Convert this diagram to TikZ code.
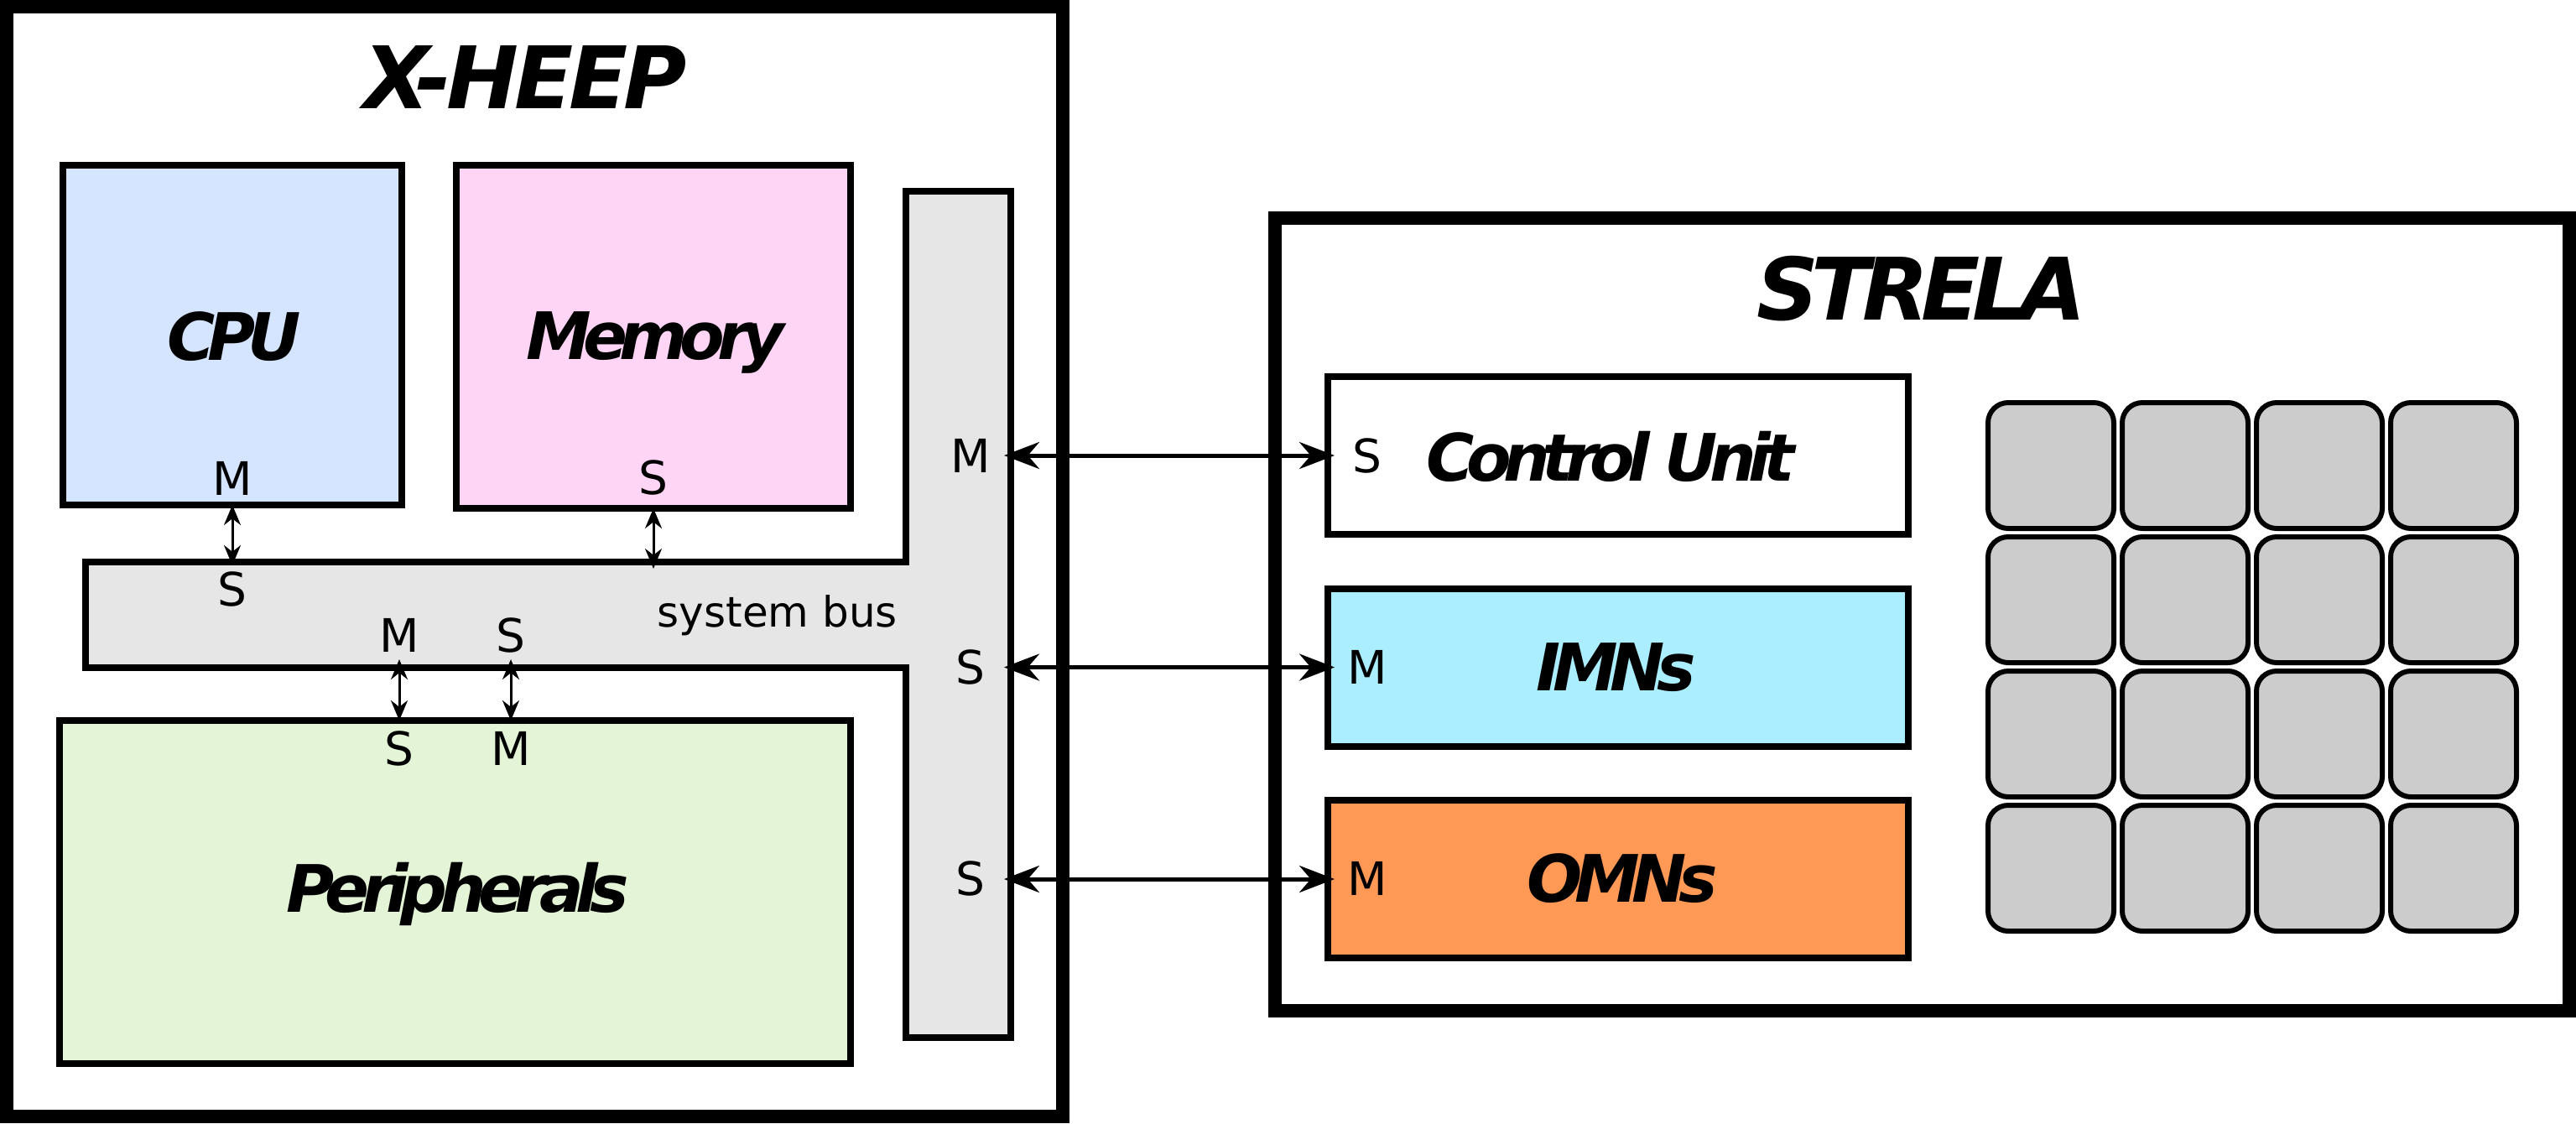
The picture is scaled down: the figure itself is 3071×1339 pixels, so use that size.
\documentclass[tikz,border=0pt]{standalone}
\usepackage{fontspec}
\setmainfont{DejaVu Sans}
\newfontfamily\ttlfont[LetterSpace=-12]{DejaVu Sans}
\newfontfamily\xhfont[LetterSpace=-5]{DejaVu Sans}
\newfontfamily\stfont[LetterSpace=-9]{DejaVu Sans}
\usetikzlibrary{arrows.meta}
\definecolor{cpufill}{HTML}{D5E5FF}
\definecolor{memfill}{HTML}{FFD5F6}
\definecolor{perfill}{HTML}{E3F4D7}
\definecolor{imnfill}{HTML}{AAEEFF}
\definecolor{omnfill}{HTML}{FF9955}
\definecolor{busfill}{HTML}{E6E6E6}
\definecolor{tilefill}{HTML}{CCCCCC}
\begin{document}
\begin{tikzpicture}[x=0.25pt,y=-0.25pt,
  blockbox/.style={draw=black, line width=2pt, inner sep=0pt, outer sep=0pt},
  framebox/.style={draw=black, line width=4pt, inner sep=0pt, outer sep=0pt, fill=white},
  tilebox/.style={draw=black, line width=1.5pt, fill=tilefill, rounded corners=6pt, minimum width=37.5pt, minimum height=37.5pt, inner sep=0pt},
  portlabel/.style={font=\fontsize{13.75pt}{16pt}\selectfont, anchor=base, inner sep=0pt},
  bigtitle/.style={anchor=base, inner sep=0pt},
  blocktitle/.style={font=\fontsize{19.5pt}{24pt}\selectfont\ttlfont\bfseries\itshape, anchor=base, inner sep=0pt},
  smallarrow/.style={line width=0.75pt, {Stealth[length=6pt,width=5pt]}-{Stealth[length=6pt,width=5pt]}},
  bigarrow/.style={line width=1.25pt, {Stealth[length=10.5pt,width=8pt]}-{Stealth[length=10.5pt,width=8pt]}},
  busstyle/.style={draw=black, line width=2pt, fill=busfill, line join=miter}
]
\useasboundingbox (0,0) rectangle (3071,1339);
\fill[white] (0,0) rectangle (3071,1339);

% frames
\node[framebox, minimum width=314.75pt, minimum height=330.75pt] (xheep) at (637.5,669.5) {};
\node[framebox, minimum width=385.75pt, minimum height=236.25pt] (strela) at (2291.5,732.5) {};

% system bus
\draw[busstyle] (102,670) -- (1080,670) -- (1080,228) -- (1205,228) -- (1205,1237) -- (1080,1237) -- (1080,796) -- (102,796) -- cycle;

% X-HEEP blocks
\node[blockbox, fill=cpufill, minimum width=101pt, minimum height=101.25pt] (cpu) at (277,399.5) {};
\node[blockbox, fill=memfill, minimum width=117.5pt, minimum height=102.25pt] (mem) at (779,401.5) {};
\node[blockbox, fill=perfill, minimum width=235.75pt, minimum height=102.25pt] (per) at (542.5,1063.5) {};

% STRELA blocks
\node[blockbox, fill=white, minimum width=173pt, minimum height=47pt] (cu) at (1929,543) {};
\node[blockbox, fill=imnfill, minimum width=173pt, minimum height=47pt] (imn) at (1929,795.5) {};
\node[blockbox, fill=omnfill, minimum width=173pt, minimum height=47pt] (omn) at (1929,1048) {};

% PE array
\foreach \i in {0,...,3} {
  \foreach \j in {0,...,3} {
    \node[tilebox] (t\i\j) at ({2445+160*\i},{555+160*\j}) {};
  }
}

% titles
\node[bigtitle, font=\fontsize{25.7pt}{30pt}\selectfont\xhfont\bfseries\itshape] (xt) at (626,129) {X-HEEP};
\node[bigtitle, font=\fontsize{25.7pt}{30pt}\selectfont\stfont\bfseries\itshape] (st) at (2291,381) {STRELA};
\node[blocktitle] (cput) at (279,429) {CPU};
\node[blocktitle] (memt) at (781,428) {Memory};
\node[blocktitle] (pert) at (546,1087) {Peripherals};
\node[blocktitle] (cut) at (1920,573) {Control Unit};
\node[blocktitle] (imnt) at (1927,823) {IMNs};
\node[blocktitle] (omnt) at (1934,1075) {OMNs};
\node[portlabel, font=\fontsize{12.5pt}{15pt}\selectfont] (sb) at (927,747) {system bus};

% port labels
\node[portlabel] (l1) at (277,590) {M};
\node[portlabel] (l2) at (277,722) {S};
\node[portlabel] (l3) at (779,589) {S};
\node[portlabel] (l4) at (476,777) {M};
\node[portlabel] (l5) at (609,777) {S};
\node[portlabel] (l6) at (476,912) {S};
\node[portlabel] (l7) at (609,912) {M};
\node[portlabel] (l8) at (1157,563) {M};
\node[portlabel] (l9) at (1157,815) {S};
\node[portlabel] (l10) at (1157,1067) {S};
\node[portlabel] (l11) at (1630,563) {S};
\node[portlabel] (l12) at (1630,815) {M};
\node[portlabel] (l13) at (1630,1067) {M};

% bus port points
\coordinate (bcpu) at (277,674);
\coordinate (bmem) at (779,678);
\coordinate (bp1) at (476,786);
\coordinate (bp2) at (609,786);
\coordinate (bcu) at (1197,543);
\coordinate (bimn) at (1197,795.5);
\coordinate (bomn) at (1197,1048);

% connectors
\draw[smallarrow] (cpu.south) -- (bcpu);
\draw[smallarrow] (mem.south) -- (bmem);
\draw[smallarrow] (bp1) -- (per.north -| bp1);
\draw[smallarrow] (bp2) -- (per.north -| bp2);
\draw[bigarrow, shorten >=-2pt] (bcu) -- (cu.west);
\draw[bigarrow, shorten >=-2pt] (bimn) -- (imn.west);
\draw[bigarrow, shorten >=-2pt] (bomn) -- (omn.west);
\end{tikzpicture}
\end{document}
